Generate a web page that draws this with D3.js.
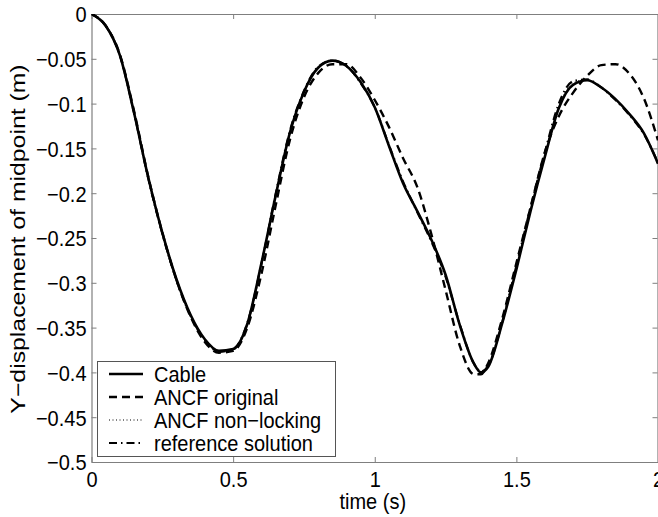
<!DOCTYPE html>
<html>
<head>
<meta charset="utf-8">
<script src="https://cdn.jsdelivr.net/npm/d3@7"></script>
<style>
  html, body { margin: 0; padding: 0; background: #fff; }
  svg { display: block; }
  text { font-family: "Liberation Sans", Arial, Helvetica, sans-serif; fill: #000; }
</style>
</head>
<body>
<svg id="chart" width="658" height="517"></svg>
<script>
// ---- data ----
const time = [0, 0.05, 0.10, 0.15, 0.20, 0.25, 0.30, 0.35, 0.40, 0.45, 0.50, 0.55, 0.60, 0.65, 0.70, 0.75, 0.80, 0.85, 0.90, 0.95,
              1.00, 1.05, 1.10, 1.15, 1.20, 1.25, 1.30, 1.35, 1.375, 1.40, 1.45, 1.50, 1.55, 1.60, 1.65, 1.70, 1.75, 1.80, 1.85, 1.90, 1.95, 2.00];
const cable = [0, -0.013, -0.046, -0.110, -0.182, -0.244, -0.296, -0.336, -0.363, -0.376, -0.374, -0.346, -0.278, -0.203, -0.133, -0.087, -0.060, -0.052, -0.058, -0.076,
               -0.104, -0.147, -0.189, -0.220, -0.252, -0.291, -0.347, -0.390, -0.400, -0.394, -0.345, -0.285, -0.220, -0.160, -0.105, -0.079, -0.074, -0.082, -0.095, -0.112, -0.133, -0.167];
const ancfOriginal = [0, -0.013, -0.045, -0.108, -0.181, -0.244, -0.297, -0.338, -0.366, -0.378, -0.376, -0.350, -0.290, -0.214, -0.141, -0.093, -0.066, -0.056, -0.056, -0.071,
               -0.096, -0.126, -0.161, -0.193, -0.246, -0.308, -0.370, -0.402, -0.402, -0.390, -0.340, -0.278, -0.216, -0.155, -0.114, -0.088, -0.069, -0.057, -0.056, -0.067, -0.094, -0.141];
const ancfNonLocking = [0, -0.013, -0.046, -0.110, -0.182, -0.245, -0.296, -0.337, -0.364, -0.377, -0.374, -0.346, -0.279, -0.202, -0.132, -0.087, -0.060, -0.052, -0.058, -0.076,
               -0.104, -0.147, -0.188, -0.220, -0.253, -0.292, -0.346, -0.390, -0.400, -0.394, -0.345, -0.284, -0.219, -0.158, -0.103, -0.077, -0.073, -0.082, -0.095, -0.112, -0.133, -0.166];
const referenceSolution = [0, -0.013, -0.046, -0.110, -0.183, -0.245, -0.297, -0.337, -0.364, -0.377, -0.374, -0.345, -0.279, -0.201, -0.131, -0.086, -0.059, -0.052, -0.058, -0.077,
               -0.104, -0.146, -0.187, -0.221, -0.254, -0.293, -0.346, -0.390, -0.399, -0.393, -0.344, -0.281, -0.216, -0.155, -0.100, -0.075, -0.073, -0.082, -0.096, -0.113, -0.134, -0.166];

const seriesNames = ["Cable", "ANCF original", "ANCF non\u2212locking", "reference solution"];
const xTicks = [0, 0.5, 1, 1.5, 2];
const xTickLabels = ["0", "0.5", "1", "1.5", "2"];
const yTicks = [0, -0.05, -0.1, -0.15, -0.2, -0.25, -0.3, -0.35, -0.4, -0.45, -0.5];
const yTickLabels = ["0", "\u22120.05", "\u22120.1", "\u22120.15", "\u22120.2", "\u22120.25", "\u22120.3", "\u22120.35", "\u22120.4", "\u22120.45", "\u22120.5"];
const xLabel = "time (s)";
const yLabel = "Y\u2212displacement of midpoint (m)";

// ---- layout ----
const L = 91.5, R = 658, T = 14, B = 462;
const svg = d3.select("#chart");
const x = d3.scaleLinear().domain([0, 2]).range([L, R]);
const y = d3.scaleLinear().domain([-0.5, 0]).range([B, T]);

const axisColor = "#7f7f7f";
const fontSize = 20;
const vStretch = 1.12;

svg.append("defs").append("clipPath").attr("id", "plotclip")
  .append("rect").attr("x", L).attr("y", T).attr("width", R - L).attr("height", B - T);

function styleAxis(g) {
  g.select(".domain").attr("stroke", axisColor).attr("stroke-width", 1.2);
  g.selectAll(".tick line").attr("stroke", axisColor).attr("stroke-width", 1);
  g.selectAll(".tick text").attr("font-size", fontSize).attr("fill", "#000")
    .style("font-family", '"Liberation Sans", Arial, sans-serif');
}

// bottom axis
const gx = svg.append("g").attr("transform", `translate(0,${B})`)
  .call(d3.axisBottom(x).tickValues(xTicks).tickFormat((d, i) => xTickLabels[i]).tickSizeInner(-5).tickSizeOuter(0).tickPadding(8));
styleAxis(gx);
gx.selectAll(".tick text").attr("transform", `scale(1,${vStretch})`);
// top axis
const gxt = svg.append("g").attr("transform", `translate(0,${T})`)
  .call(d3.axisTop(x).tickValues(xTicks).tickFormat("").tickSizeInner(-5).tickSizeOuter(0));
styleAxis(gxt);
// left axis
const gy = svg.append("g").attr("transform", `translate(${L},0)`)
  .call(d3.axisLeft(y).tickValues(yTicks).tickFormat((d, i) => yTickLabels[i]).tickSizeInner(-5).tickSizeOuter(0).tickPadding(5));
styleAxis(gy);
gy.selectAll(".tick text").attr("dy", "0.35em").attr("transform", `scale(1,${vStretch})`);
// right axis
const gyr = svg.append("g").attr("transform", `translate(${R - 0.5},0)`)
  .call(d3.axisRight(y).tickValues(yTicks).tickFormat("").tickSizeInner(-5).tickSizeOuter(0));
styleAxis(gyr);

// axis labels
svg.append("text").attr("transform", `translate(${(L + R) / 2 - 2},509) scale(1,${vStretch})`)
  .attr("text-anchor", "middle").attr("font-size", fontSize).text(xLabel);
svg.append("text").attr("transform", `translate(25,${(T + B) / 2 + 1}) rotate(-90) scale(1.24,1.05)`)
  .attr("text-anchor", "middle").attr("font-size", fontSize).text(yLabel);

// ---- lines ----
const styles = [
  { w: 2.6, dash: null },
  { w: 2.4, dash: "8,5" },
  { w: 1.0, dash: "1,2.5" },
  { w: 2.2, dash: "8,4,1.5,4" }
];
const allSeries = [cable, ancfOriginal, ancfNonLocking, referenceSolution];
const line = d3.line().x(d => x(d[0])).y(d => y(d[1])).curve(d3.curveMonotoneX);
const plot = svg.append("g").attr("clip-path", "url(#plotclip)");
allSeries.forEach((vals, i) => {
  const pts = time.map((t, j) => [t, vals[j]]);
  plot.append("path").datum(pts).attr("d", line)
    .attr("fill", "none").attr("stroke", "#000")
    .attr("stroke-width", styles[i].w)
    .attr("stroke-dasharray", styles[i].dash)
    .attr("stroke-linejoin", "round");
});

// ---- legend ----
const lg = svg.append("g");
lg.append("rect").attr("x", 97.5).attr("y", 361.5).attr("width", 238).attr("height", 95)
  .attr("fill", "#fff").attr("stroke", "#555").attr("stroke-width", 1);
const rowY = [374, 397, 420, 443];
seriesNames.forEach((name, i) => {
  lg.append("line").attr("x1", 109).attr("x2", 143).attr("y1", rowY[i]).attr("y2", rowY[i])
    .attr("stroke", "#000").attr("stroke-width", styles[i].w)
    .attr("stroke-dasharray", styles[i].dash);
  lg.append("text").attr("transform", `translate(154,${rowY[i]}) scale(1,${vStretch})`)
    .attr("dy", "0.35em").attr("font-size", fontSize).text(name);
});
</script>
</body>
</html>
